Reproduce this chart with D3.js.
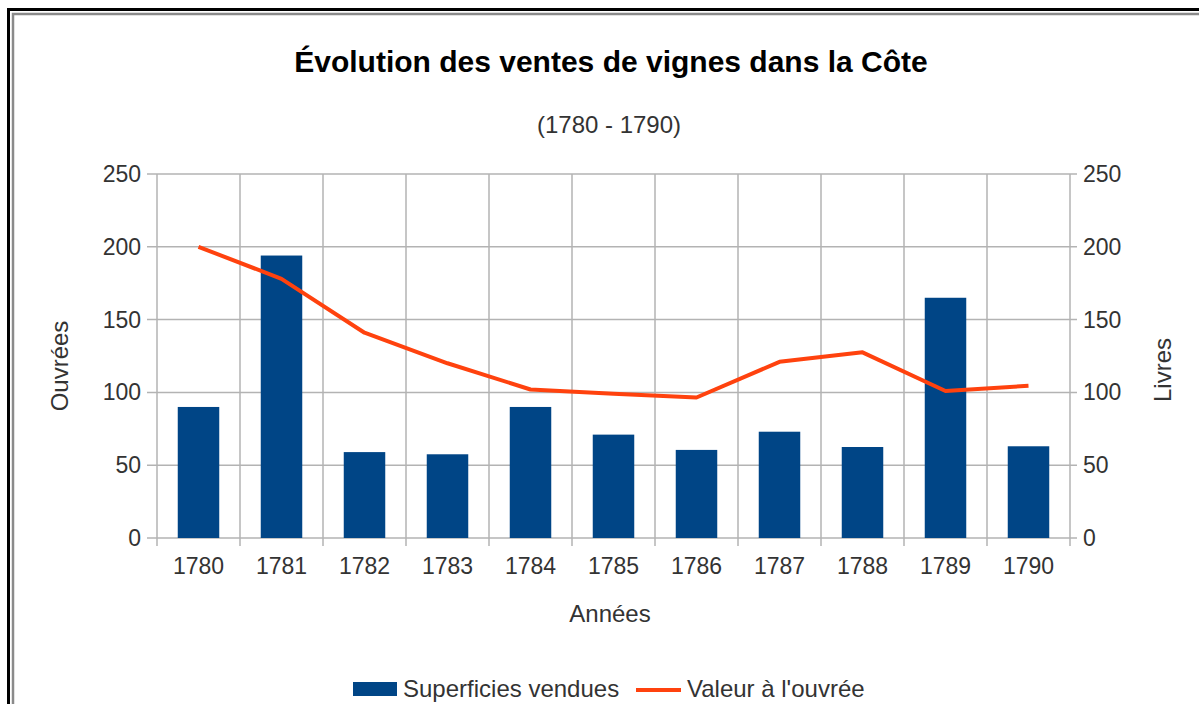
<!DOCTYPE html>
<html>
<head>
<meta charset="utf-8">
<script src="https://cdn.jsdelivr.net/npm/d3@7"></script>
<style>
  body { margin: 0; background: #fff; }
  svg { display: block; font-family: "Liberation Sans", Arial, sans-serif; }
</style>
</head>
<body>
<svg width="1199" height="704"></svg>
<script>
// Values
const years = ["1780", "1781", "1782", "1783", "1784", "1785", "1786", "1787", "1788", "1789", "1790"];
const superficies = [90, 194, 59, 57.5, 90, 71, 60.5, 73, 62.5, 165, 63];
const valeurs = [200, 178, 141, 120, 102, 99, 96.5, 121, 127.5, 101, 104.5];
const yTicks = [0, 50, 100, 150, 200, 250];

const svg = d3.select("svg");

// Frame (only top and left edges are visible in the picture)
svg.append("rect").attr("x", 8.5).attr("y", 9.5).attr("width", 1400).attr("height", 900)
  .attr("fill", "none").attr("stroke", "#000").attr("stroke-width", 3);
svg.append("rect").attr("x", 13).attr("y", 14).attr("width", 1400).attr("height", 900)
  .attr("fill", "none").attr("stroke", "#8a8a8a").attr("stroke-width", 2.5);

const plotL = 157, plotR = 1070, plotT = 174, plotB = 538;

const x = d3.scaleBand().domain(years).range([plotL, plotR])
  .paddingInner(0.5).paddingOuter(0.25);
const y = d3.scaleLinear().domain([0, 250]).range([plotB, plotT]);
const step = x.step();

// Gridlines
const grid = svg.append("g").attr("stroke", "#b3b3b3").attr("stroke-width", 1.5);
grid.selectAll("line.h").data(yTicks).enter().append("line")
  .attr("x1", plotL - 10).attr("x2", plotR + 7)
  .attr("y1", d => y(d)).attr("y2", d => y(d));
grid.selectAll("line.v").data(d3.range(years.length + 1)).enter().append("line")
  .attr("x1", i => plotL + i * step).attr("x2", i => plotL + i * step)
  .attr("y1", plotT).attr("y2", plotB + 8);

// Bars
svg.append("g").selectAll("rect").data(superficies).enter().append("rect")
  .attr("x", (d, i) => x(years[i]))
  .attr("width", x.bandwidth())
  .attr("y", d => y(d))
  .attr("height", d => y(0) - y(d))
  .attr("fill", "#004586");

// Line
const line = d3.line()
  .x((d, i) => x(years[i]) + x.bandwidth() / 2)
  .y(d => y(d));
svg.append("path").datum(valeurs)
  .attr("d", line)
  .attr("fill", "none")
  .attr("stroke", "#ff420e")
  .attr("stroke-width", 4)
  .attr("stroke-linejoin", "round");

// Tick labels
const tickCol = "#333";
svg.append("g").selectAll("text").data(yTicks).enter().append("text")
  .attr("x", plotL - 16).attr("y", d => y(d)).attr("dy", "0.35em")
  .attr("text-anchor", "end").attr("font-size", 23).attr("fill", tickCol)
  .text(d => d);
svg.append("g").selectAll("text").data(yTicks).enter().append("text")
  .attr("x", plotR + 13).attr("y", d => y(d)).attr("dy", "0.35em")
  .attr("text-anchor", "start").attr("font-size", 23).attr("fill", tickCol)
  .text(d => d);
svg.append("g").selectAll("text").data(years).enter().append("text")
  .attr("x", d => x(d) + x.bandwidth() / 2).attr("y", 574)
  .attr("text-anchor", "middle").attr("font-size", 23).attr("fill", tickCol)
  .text(d => d);

// Titles
svg.append("text").attr("x", 611).attr("y", 72).attr("text-anchor", "middle")
  .attr("font-size", 30).attr("font-weight", "bold").attr("fill", "#000")
  .text("Évolution des ventes de vignes dans la Côte");
svg.append("text").attr("x", 609).attr("y", 133).attr("text-anchor", "middle")
  .attr("font-size", 24).attr("fill", tickCol)
  .text("(1780 - 1790)");
svg.append("text").attr("x", 610).attr("y", 622).attr("text-anchor", "middle")
  .attr("font-size", 24).attr("fill", tickCol)
  .text("Années");
svg.append("text").attr("transform", "translate(68,366) rotate(-90)")
  .attr("text-anchor", "middle").attr("font-size", 24).attr("fill", tickCol)
  .text("Ouvrées");
svg.append("text").attr("transform", "translate(1171,370) rotate(-90)")
  .attr("text-anchor", "middle").attr("font-size", 24).attr("fill", tickCol)
  .text("Livres");

// Legend
const lg = svg.append("g");
lg.append("rect").attr("x", 353).attr("y", 682).attr("width", 44).attr("height", 14)
  .attr("fill", "#004586");
lg.append("text").attr("x", 403).attr("y", 697).attr("font-size", 24).attr("fill", tickCol)
  .text("Superficies vendues");
lg.append("line").attr("x1", 636).attr("x2", 681).attr("y1", 690).attr("y2", 690)
  .attr("stroke", "#ff420e").attr("stroke-width", 4);
lg.append("text").attr("x", 687).attr("y", 697).attr("font-size", 24).attr("fill", tickCol)
  .text("Valeur à l'ouvrée");
</script>
</body>
</html>
